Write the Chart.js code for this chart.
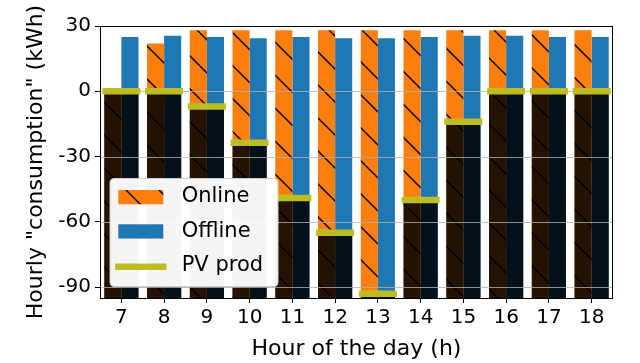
<!DOCTYPE html>
<html>
<head>
<meta charset="utf-8">
<script src="https://cdn.jsdelivr.net/npm/chart.js@4.4.0/dist/chart.umd.min.js"></script>
<style>
  html, body { margin: 0; padding: 0; background: #fff; }
</style>
</head>
<body>
<canvas id="pvChart" width="640" height="363"></canvas>
<script>
// values
const hours = ['7', '8', '9', '10', '11', '12', '13', '14', '15', '16', '17', '18'];
const onlineTop = [0, 22, 28, 28, 28, 28, 28, 28, 28, 28, 28, 28];
const offlineTop = [25, 25.5, 25, 24.4, 25, 24.4, 24.4, 25, 25.5, 25.5, 25, 25];
const pvProd = [0, 0, -7, -23.7, -49, -65, -93, -50, -14, 0, 0, 0];
const yTicks = [-90, -60, -30, 0, 30];
const yMin = -95;
const yMax = 30;

const FONT = 'DejaVu Sans';
const ORANGE = '#ff7f0e';
const BLUE = '#1f77b4';
const OLIVE = '#bcbd22';
const SHADE = 'rgba(0,0,0,0.86)';

const canvas = document.getElementById('pvChart');
const ctx = canvas.getContext('2d');

// orange fill with "\" hatch, anchored to the canvas so lines run on across bars
function makeHatch() {
  const size = 33;
  const tile = document.createElement('canvas');
  tile.width = tile.height = size;
  const g = tile.getContext('2d');
  g.fillStyle = ORANGE;
  g.fillRect(0, 0, size, size);
  g.strokeStyle = '#000';
  g.lineWidth = 1.4;
  for (const k of [-size, 0, size]) {
    g.beginPath();
    g.moveTo(2 + k, 0);
    g.lineTo(2 + k + size, size);
    g.stroke();
  }
  return ctx.createPattern(tile, 'repeat');
}
const hatch = makeHatch();

// grid drawn above the bars but under the PV markers
const gridPlugin = {
  id: 'gridAbove',
  beforeDatasetDraw(chart, args) {
    if (args.index !== 4) return;
    const { ctx, chartArea } = chart;
    const y = chart.scales.y;
    ctx.save();
    ctx.strokeStyle = 'rgba(176,176,176,0.8)';
    ctx.lineWidth = 1;
    yTicks.forEach(v => {
      const py = Math.round(y.getPixelForValue(v)) + 0.5;
      ctx.beginPath();
      ctx.moveTo(chartArea.left, py);
      ctx.lineTo(chartArea.right, py);
      ctx.stroke();
    });
    ctx.restore();
  }
};

const framePlugin = {
  id: 'frameAndLegend',
  afterDraw(chart) {
    const { ctx, chartArea } = chart;
    ctx.save();
    // legend box
    const bx = 110, by = 178.5, bw = 168, bh = 108;
    ctx.beginPath();
    ctx.roundRect(bx, by, bw, bh, 4);
    ctx.fillStyle = 'rgba(255,255,255,0.96)';
    ctx.fill();
    ctx.strokeStyle = '#cccccc';
    ctx.lineWidth = 1;
    ctx.stroke();

    ctx.fillStyle = hatch;
    ctx.fillRect(118.3, 190, 45, 14.3);
    ctx.fillStyle = BLUE;
    ctx.fillRect(118.3, 224.3, 45, 14.3);
    ctx.strokeStyle = OLIVE;
    ctx.lineWidth = 6.5;
    ctx.lineCap = 'square';
    ctx.beginPath();
    ctx.moveTo(118.3, 266.7);
    ctx.lineTo(163.3, 266.7);
    ctx.stroke();

    ctx.fillStyle = '#000';
    ctx.font = '21px "' + FONT + '"';
    ctx.textBaseline = 'middle';
    ctx.fillText('Online', 181.7, 197);
    ctx.fillText('Offline', 181.7, 231.5);
    ctx.fillText('PV prod', 181.7, 266);

    // axes frame
    ctx.strokeStyle = '#000';
    ctx.lineWidth = 1;
    ctx.lineCap = 'butt';
    ctx.strokeRect(Math.round(chartArea.left) + 0.5, Math.round(chartArea.top) + 0.5,
      Math.round(chartArea.right - chartArea.left) - 1, Math.round(chartArea.bottom - chartArea.top));
    ctx.restore();
  }
};

new Chart(ctx, {
  data: {
    labels: hours,
    datasets: [
      {
        type: 'bar',
        label: 'Online',
        data: hours.map((h, i) => [yMin, onlineTop[i]]),
        backgroundColor: hatch,
        stack: 'on',
        order: 3
      },
      {
        type: 'bar',
        label: 'Offline',
        data: hours.map((h, i) => [yMin, offlineTop[i]]),
        backgroundColor: BLUE,
        stack: 'off',
        order: 3
      },
      {
        type: 'bar',
        label: 'shade-on',
        data: hours.map((h, i) => [yMin, pvProd[i]]),
        backgroundColor: SHADE,
        stack: 'on',
        order: 2
      },
      {
        type: 'bar',
        label: 'shade-off',
        data: hours.map((h, i) => [yMin, pvProd[i]]),
        backgroundColor: SHADE,
        stack: 'off',
        order: 2
      },
      {
        type: 'line',
        label: 'PV prod',
        data: pvProd,
        showLine: false,
        pointStyle: 'line',
        pointRadius: 19,
        pointHoverRadius: 19,
        pointBorderWidth: 6.5,
        pointBorderColor: OLIVE,
        pointBackgroundColor: OLIVE,
        order: 1
      }
    ]
  },
  options: {
    responsive: false,
    animation: false,
    events: [],
    datasets: {
      bar: { categoryPercentage: 0.8, barPercentage: 1.0, borderWidth: 0 }
    },
    layout: { padding: { top: 26, right: 27, left: 0, bottom: 0 } },
    plugins: {
      legend: { display: false },
      tooltip: { enabled: false }
    },
    scales: {
      x: {
        stacked: true,
        offset: true,
        border: { display: false },
        grid: {
          display: true,
          offset: false,
          drawOnChartArea: false,
          drawTicks: true,
          tickLength: 5,
          tickColor: '#000'
        },
        ticks: { color: '#000', font: { family: FONT, size: 20 }, padding: 3 },
        title: {
          display: true,
          text: 'Hour of the day (h)',
          color: '#000',
          font: { family: FONT, size: 22 },
          padding: { top: 0, bottom: 1 }
        },
        afterFit: s => { s.height = 65; }
      },
      y: {
        stacked: false,
        min: yMin,
        max: yMax,
        afterBuildTicks: s => { s.ticks = yTicks.map(v => ({ value: v })); },
        border: { display: false },
        grid: {
          display: true,
          drawOnChartArea: false,
          drawTicks: true,
          tickLength: 5,
          tickColor: '#000'
        },
        ticks: { color: '#000', font: { family: FONT, size: 20 }, padding: 4 },
        title: {
          display: true,
          text: 'Hourly "consumption" (kWh)',
          color: '#000',
          font: { family: FONT, size: 22 },
          padding: { top: 23, bottom: 0 }
        },
        afterFit: s => { s.width = 100; }
      }
    }
  },
  plugins: [gridPlugin, framePlugin]
});
</script>
</body>
</html>
